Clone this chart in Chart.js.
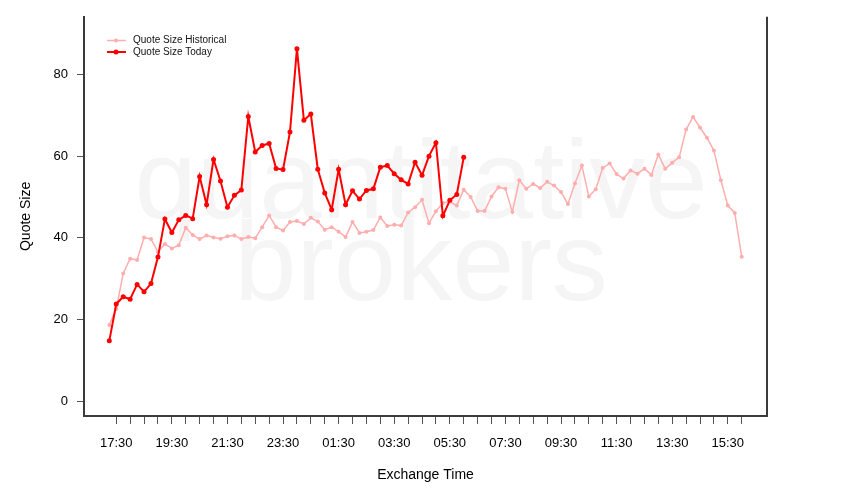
<!DOCTYPE html>
<html>
<head>
<meta charset="utf-8">
<script src="https://cdn.jsdelivr.net/npm/chart.js@4/dist/chart.umd.min.js"></script>
<style>
  html, body { margin: 0; padding: 0; background: #fff; }
  #wrap { width: 850px; height: 500px; }
</style>
</head>
<body>
<div id="wrap"><canvas id="quoteChart" width="850" height="500"></canvas></div>
<script>
// Data: one point every 15 minutes from 17:15
const startTime = '17:15';
const stepMinutes = 15;
const tickLabels = ['17:30', '19:30', '21:30', '23:30', '01:30', '03:30',
                    '05:30', '07:30', '09:30', '11:30', '13:30', '15:30'];
const yTicks = [0, 20, 40, 60, 80];

const historical = [
  18.7, 22.6, 31.3, 34.9, 34.6, 40.1, 39.7, 36.6, 38.5, 37.4,
  38.2, 42.5, 40.7, 39.7, 40.6, 40.1, 39.8, 40.4, 40.6, 39.7,
  40.2, 39.9, 42.6, 45.5, 42.6, 41.8, 43.9, 44.1, 43.4, 44.9,
  44.0, 42.0, 42.6, 41.5, 40.2, 43.9, 41.2, 41.5, 41.9, 45.0,
  42.9, 43.2, 43.0, 46.2, 47.5, 49.3, 43.6, 46.5, 48.5, 48.9,
  47.9, 51.8, 50.0, 46.6, 46.6, 50.1, 52.4, 52.0, 46.3, 54.1,
  52.0, 53.2, 52.2, 53.7, 52.8, 51.2, 48.3, 53.3, 57.7, 50.1,
  51.9, 57.1, 58.2, 55.6, 54.5, 56.5, 55.7, 56.9, 55.4, 60.4,
  56.9, 58.4, 59.7, 66.5, 69.6, 67.0, 64.5, 61.4, 54.1, 47.9,
  46.1, 35.4
];

const today = [
  14.8, 23.8, 25.6, 25.0, 28.6, 26.8, 28.8, 35.3, 44.6, 41.3,
  44.4, 45.5, 44.7, 55.0, 48.1, 59.2, 53.9, 47.5, 50.4, 51.7,
  69.7, 61.0, 62.6, 63.1, 57.0, 56.7, 65.9, 86.3, 68.8, 70.3,
  56.8, 51.0, 46.9, 56.8, 48.1, 51.5, 49.5, 51.6, 52.0, 57.3,
  57.7, 55.7, 54.2, 53.2, 58.5, 55.3, 60.0, 63.3, 45.4, 49.2,
  50.6, 59.7
];

// clock labels for each sample
function buildTimes(n) {
  const [h, m] = startTime.split(':').map(Number);
  const out = [];
  for (let i = 0; i < n; i++) {
    const t = (h * 60 + m + i * stepMinutes) % (24 * 60);
    out.push(String(Math.floor(t / 60)).padStart(2, '0') + ':' + String(t % 60).padStart(2, '0'));
  }
  return out;
}
const times = buildTimes(historical.length);

function toPoints(arr) {
  return arr.map((v, i) => ({ x: i, y: v }));
}

const font = '"Liberation Sans", Arial, Helvetica, sans-serif';
const axisColor = '#3a3a3a';
const pinkColor = '#ffadad';
const redColor = '#ff0000';

// x spans the data with 4% slack each side, like the original plot
const lastIdx = historical.length - 1;
const xPad = lastIdx * 0.04;

const watermark = {
  id: 'watermark',
  beforeDatasetsDraw(chart) {
    const ctx = chart.ctx;
    ctx.save();
    ctx.fillStyle = '#f5f5f5';
    ctx.font = '112px ' + font;
    ctx.textAlign = 'center';
    ctx.textBaseline = 'alphabetic';
    ctx.fillText('quantitative', 421, 218);
    ctx.fillText('brokers', 421, 300);
    ctx.restore();
  }
};

const frameAndLegend = {
  id: 'frameAndLegend',
  afterDraw(chart) {
    const ctx = chart.ctx;
    const area = chart.chartArea;
    ctx.save();
    // right side of the box
    ctx.strokeStyle = axisColor;
    ctx.lineWidth = 2;
    ctx.beginPath();
    ctx.moveTo(area.right, area.top);
    ctx.lineTo(area.right, area.bottom + 1);
    ctx.stroke();

    // legend, top left inside the plot
    const items = chart.data.datasets;
    ctx.font = '10px ' + font;
    ctx.textBaseline = 'middle';
    ctx.textAlign = 'left';
    items.forEach((ds, i) => {
      const y = 40.5 + i * 11.5;
      ctx.strokeStyle = ds.borderColor;
      ctx.fillStyle = ds.borderColor;
      ctx.lineWidth = ds.borderWidth;
      ctx.beginPath();
      ctx.moveTo(107, y);
      ctx.lineTo(126, y);
      ctx.stroke();
      ctx.beginPath();
      ctx.arc(116, y, ds.pointRadius, 0, Math.PI * 2);
      ctx.fill();
      ctx.fillStyle = '#111';
      ctx.fillText(ds.label, 133, y);
    });
    ctx.restore();
  }
};

const ctx = document.getElementById('quoteChart').getContext('2d');
const quoteChart = new Chart(ctx, {
  type: 'line',
  data: {
    datasets: [{
      label: 'Quote Size Historical',
      data: toPoints(historical),
      borderColor: pinkColor,
      backgroundColor: pinkColor,
      borderWidth: 1.5,
      pointRadius: 2,
      pointBorderWidth: 0,
      tension: 0,
      order: 1
    }, {
      label: 'Quote Size Today',
      data: toPoints(today),
      borderColor: redColor,
      backgroundColor: redColor,
      borderWidth: 2,
      pointRadius: 2.5,
      pointBorderWidth: 0,
      tension: 0,
      order: 0
    }]
  },
  options: {
    responsive: false,
    devicePixelRatio: 1,
    animation: false,
    layout: { padding: { top: 16, right: 83, left: 0, bottom: 0 } },
    plugins: {
      legend: { display: false },
      tooltip: { enabled: false }
    },
    scales: {
      x: {
        type: 'linear',
        min: -xPad,
        max: lastIdx + xPad,
        afterBuildTicks: (scale) => {
          const t = [];
          for (let i = 1; i <= lastIdx; i += 2) t.push({ value: i });
          scale.ticks = t;
        },
        afterFit: (scale) => { scale.height = 84; },
        ticks: {
          autoSkip: false,
          maxRotation: 0,
          padding: 12,
          color: '#000',
          font: { family: font, size: 13 },
          callback: (v) => tickLabels.includes(times[v]) ? times[v] : ''
        },
        grid: {
          display: true,
          drawOnChartArea: false,
          drawTicks: true,
          tickLength: 8,
          color: '#555',
          lineWidth: 1
        },
        border: { display: true, color: axisColor, width: 2 },
        title: {
          display: true,
          text: 'Exchange Time',
          color: '#000',
          font: { family: font, size: 14 },
          padding: { top: 0, bottom: 16 }
        }
      },
      y: {
        min: -3.6,
        max: 94.1,
        afterBuildTicks: (scale) => { scale.ticks = yTicks.map(v => ({ value: v })); },
        afterFit: (scale) => { scale.width = 84; },
        ticks: {
          padding: 9,
          color: '#000',
          font: { family: font, size: 13 }
        },
        grid: {
          display: true,
          drawOnChartArea: false,
          drawTicks: true,
          tickLength: 7,
          color: '#555',
          lineWidth: 1
        },
        border: { display: true, color: axisColor, width: 2 },
        title: {
          display: true,
          text: 'Quote Size',
          color: '#000',
          font: { family: font, size: 14 },
          padding: { top: 18, bottom: 0 }
        }
      }
    }
  },
  plugins: [watermark, frameAndLegend]
});
</script>
</body>
</html>
